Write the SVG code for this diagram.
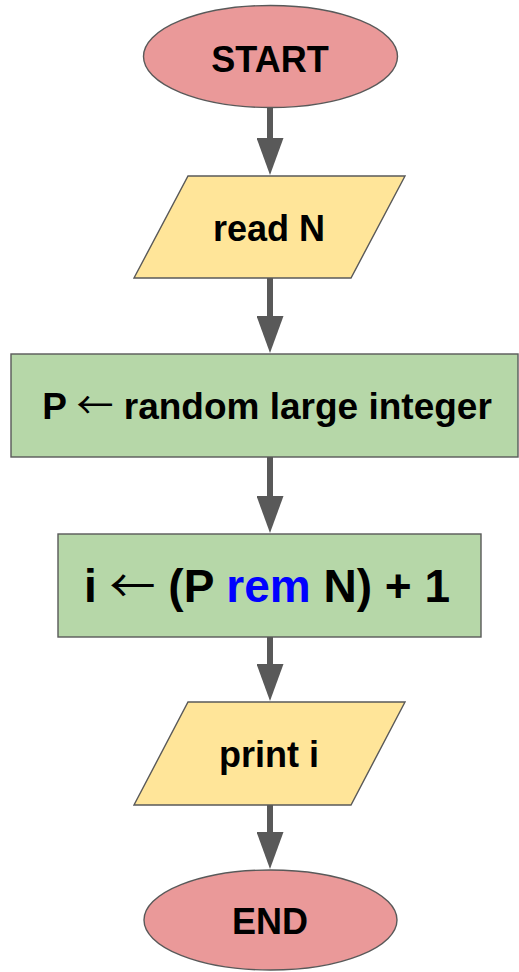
<svg xmlns="http://www.w3.org/2000/svg" width="519" height="972" viewBox="0 0 519 972">
<style>
.node{stroke:#595959;stroke-width:1.4}
.term{fill:#ea9999}
.io{fill:#ffe599}
.proc{fill:#b6d7a8}
text{font-family:"Liberation Sans",Arial,sans-serif;font-weight:bold;fill:#000;text-anchor:middle}
.arr{font-family:"Noto Sans CJK SC",sans-serif;font-weight:normal}
.conn{stroke:#595959;stroke-width:6;fill:none}
</style>
<defs>
<marker id="ah" viewBox="0 0 37 27" refX="0" refY="13.5" markerWidth="37" markerHeight="27" markerUnits="userSpaceOnUse" orient="auto">
<path d="M0,0 L37,13.5 L0,27 Z" fill="#595959"/>
</marker>
</defs>
<g id="connectors">
<line class="conn" x1="270" y1="108" x2="270" y2="138" marker-end="url(#ah)"/>
<line class="conn" x1="270" y1="278" x2="270" y2="316" marker-end="url(#ah)"/>
<line class="conn" x1="270" y1="457" x2="270" y2="496" marker-end="url(#ah)"/>
<line class="conn" x1="270" y1="637" x2="270" y2="664" marker-end="url(#ah)"/>
<line class="conn" x1="270" y1="805" x2="270" y2="832" marker-end="url(#ah)"/>
</g>
<g id="start">
<ellipse class="node term" cx="270.5" cy="56.5" rx="127" ry="51"/>
<text x="270" y="72" font-size="36">START</text>
</g>
<g id="read">
<polygon class="node io" points="188,176 405,176 351,278 134,278"/>
<text x="269" y="241" font-size="36">read N</text>
</g>
<g id="assignP">
<rect class="node proc" x="11" y="354" width="507" height="103"/>
<text x="267" y="419" font-size="37">P <tspan class="arr">←</tspan> random large integer</text>
</g>
<g id="assignI">
<rect class="node proc" x="58" y="534" width="423" height="103"/>
<text x="267" y="602" font-size="46">i <tspan class="arr">←</tspan> (P <tspan fill="#0000ff">rem</tspan> N) + 1</text>
</g>
<g id="print">
<polygon class="node io" points="188,702 405,702 351,805 134,805"/>
<text x="269" y="767" font-size="36">print i</text>
</g>
<g id="end">
<ellipse class="node term" cx="270.5" cy="920" rx="126.5" ry="50"/>
<text x="270" y="934" font-size="36">END</text>
</g>
</svg>
